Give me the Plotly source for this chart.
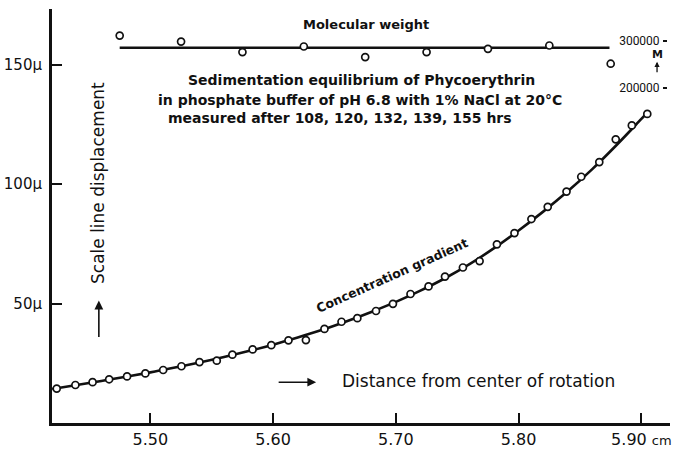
import plotly.graph_objects as go

# Scale line displacement (micron) vs distance from the centre of rotation (cm)
dist_cm = [5.4237, 5.4389, 5.4529, 5.4664, 5.4810, 5.4959, 5.5104, 5.5253, 5.5400,
           5.5541, 5.5668, 5.5833, 5.5985, 5.6125, 5.6267, 5.6418, 5.6557, 5.6686,
           5.6838, 5.6976, 5.7119, 5.7266, 5.7400, 5.7546, 5.7682, 5.7823, 5.7966,
           5.8104, 5.8237, 5.8390, 5.8510, 5.8657, 5.8791, 5.8922, 5.9048]
displacement_um = [14.4, 15.9, 17.1, 18.3, 19.5, 20.75, 22.2, 23.75, 25.5,
                   26.1, 28.6, 30.8, 32.6, 34.6, 34.7, 39.4, 42.4, 43.9,
                   46.9, 49.9, 54.0, 57.2, 61.3, 65.1, 67.8, 74.8, 79.5,
                   85.4, 90.5, 96.9, 103.1, 109.25, 118.75, 124.6, 129.4]

# Smooth concentration-gradient curve drawn through the readings
curve_cm = [5.42, 5.44, 5.46, 5.48, 5.50, 5.52, 5.54, 5.56, 5.58, 5.60, 5.62, 5.64, 5.66,
            5.68, 5.70, 5.72, 5.74, 5.76, 5.78, 5.80, 5.82, 5.84, 5.86, 5.88, 5.90, 5.905]
curve_um = [14.2, 15.9, 17.6, 19.4, 21.2, 23.2, 25.3, 27.6, 30.1, 32.8, 35.8, 39.0, 42.6,
            46.5, 50.7, 55.4, 60.6, 66.5, 73.2, 80.6, 88.5, 97.0, 106.3, 116.5, 127.3, 130.0]

# Molecular weight computed along the cell
mw_cm = [5.475, 5.525, 5.575, 5.625, 5.675, 5.725, 5.775, 5.825, 5.875]
mw_values = [311200, 298500, 276100, 288000, 265500, 276100, 283100, 290100, 251400]
mw_mean_cm = [5.475, 5.874]
mw_mean = [285200, 285200]

x_ticks = [5.50, 5.60, 5.70, 5.80, 5.90]
x_ticktext = ["5.50", "5.60", "5.70", "5.80",
              "5.90 <span style='font-size:13px'>cm</span>"]
y_ticks = [50, 100, 150]
y_ticktext = ["50μ", "100μ", "150μ"]
mw_ticks = [200000, 300000]
mw_ticktext = ["200000", "300000"]

# figure geometry (pixels)
W, H = 674, 451
L, R, T, B = 52, 2, 9, 26
X0_PX, X_PER_CM = 150.7, 1231.5          # 5.50 cm position and scale
Y0_PX, Y_PER_UM = 425.0, 2.4             # 0 micron position and scale
MW_REF_PX, MW_PER_1E5 = 41.0, 47.3       # 300000 position and scale


def px_x(px):
    return 5.50 + (px - X0_PX) / X_PER_CM


def px_y(py):
    return (Y0_PX - py) / Y_PER_UM


def px_mw(py):
    return 300000 - (py - MW_REF_PX) / MW_PER_1E5 * 100000


INK = "#111111"
FONT = "DejaVu Sans"

fig = go.Figure()

fig.add_trace(go.Scatter(
    x=curve_cm, y=curve_um, mode="lines", line=dict(color=INK, width=2.6, shape="spline"),
    hoverinfo="skip", showlegend=False))
fig.add_trace(go.Scatter(
    x=dist_cm, y=displacement_um, mode="markers",
    marker=dict(symbol="circle", size=7, color="white", line=dict(color=INK, width=1.7)),
    showlegend=False))

fig.add_trace(go.Scatter(
    x=mw_mean_cm, y=mw_mean, yaxis="y2", mode="lines", line=dict(color=INK, width=2.6),
    hoverinfo="skip", showlegend=False))
fig.add_trace(go.Scatter(
    x=mw_cm, y=mw_values, yaxis="y2", mode="markers",
    marker=dict(symbol="circle", size=7, color="white", line=dict(color=INK, width=1.7)),
    showlegend=False))

plot_w = W - L - R
plot_h = H - T - B

annotations = []


def text(px, py, s, size, bold=True, angle=0, family=FONT):
    if bold:
        s = "<b>" + s + "</b>"
    annotations.append(dict(
        x=px_x(px), y=px_y(py), xref="x", yref="y", text=s, showarrow=False,
        textangle=angle, font=dict(family=family, size=size, color=INK),
        xanchor="center", yanchor="middle"))


text(367, 25, "Molecular weight", 13)
text(362, 80, "Sedimentation equilibrium of Phycoerythrin", 14)
text(361, 100, "in phosphate buffer of pH 6.8 with 1% NaCl at 20°C", 14)
text(341, 119, "measured after 108, 120, 132, 139, 155 hrs", 14)
text(98, 184, "Scale line displacement", 17, bold=False, angle=-90)
text(480, 383, "Distance from center of rotation", 17, bold=False)
text(393, 277, "Concentration gradient", 12.5, angle=-24)
text(659, 55, "M", 11)

# arrows
for head, tail in [((99, 302), (99, 340)), ((317, 384), (278, 384)), ((659, 62), (659, 74))]:
    small = head[1] == 62
    annotations.append(dict(
        x=px_x(head[0]), y=px_y(head[1]), xref="x", yref="y",
        ax=tail[0] - head[0], ay=tail[1] - head[1], axref="pixel", ayref="pixel",
        text="", showarrow=True, arrowhead=2, arrowsize=0.8 if small else 1.1,
        arrowwidth=1.3 if small else 1.6, arrowcolor=INK))

fig.update_layout(
    width=W, height=H,
    margin=dict(l=L, r=R, t=T, b=B, pad=0),
    paper_bgcolor="white", plot_bgcolor="white",
    showlegend=False,
    font=dict(family=FONT, color=INK),
    xaxis=dict(
        range=[px_x(L), px_x(W - R)], showgrid=False, zeroline=False,
        showline=True, linewidth=3, linecolor=INK,
        ticks="inside", ticklen=10, tickwidth=2, tickcolor=INK,
        tickvals=x_ticks, ticktext=x_ticktext,
        tickfont=dict(family="DejaVu Sans", size=16, color=INK)),
    yaxis=dict(
        range=[px_y(Y0_PX), px_y(T)], showgrid=False, zeroline=False,
        showline=True, linewidth=3, linecolor=INK,
        ticks="inside", ticklen=10, tickwidth=2, tickcolor=INK,
        tickvals=y_ticks, ticktext=y_ticktext, ticklabelstandoff=4,
        tickfont=dict(family="DejaVu Sans", size=15, color=INK)),
    yaxis2=dict(
        overlaying="y", anchor="free", position=(669 - L) / plot_w, side="left",
        range=[px_mw(Y0_PX), px_mw(T)], showgrid=False, zeroline=False, showline=False,
        ticks="outside", ticklen=4, tickwidth=1.5, tickcolor=INK,
        tickvals=mw_ticks, ticktext=mw_ticktext, ticklabelstandoff=1,
        tickfont=dict(family="Liberation Sans Narrow, Roboto", size=12, color=INK)),
    annotations=annotations,
)

fig.write_html("out.html")
